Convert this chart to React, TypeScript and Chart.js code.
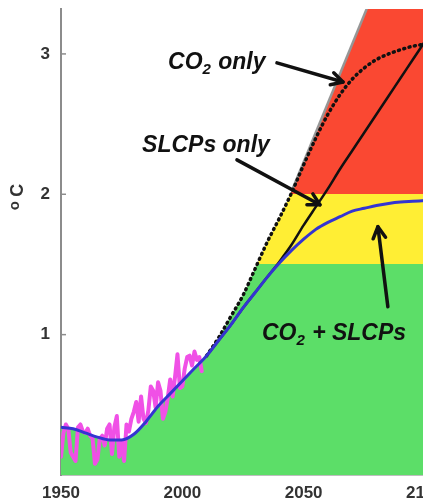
import React, { useEffect, useRef } from 'react';
import { Chart, registerables } from 'chart.js';

Chart.register(...registerables);

// ---------- data ----------
const observedYears = [
  1950, 1951, 1952, 1953, 1954, 1955, 1956, 1957, 1958, 1959,
  1960, 1961, 1962, 1963, 1964, 1965, 1966, 1967, 1968, 1969,
  1970, 1971, 1972, 1973, 1974, 1975, 1976, 1977, 1978, 1979,
  1980, 1981, 1982, 1983, 1984, 1985, 1986, 1987, 1988, 1989,
  1990, 1991, 1992, 1993, 1994, 1995, 1996, 1997, 1998, 1999,
  2000, 2001, 2002, 2003, 2004, 2005, 2006, 2007, 2008,
];
const observedValues = [
  0.13, 0.30, 0.36, 0.33, 0.16, 0.13, 0.10, 0.34, 0.36, 0.31,
  0.30, 0.33, 0.28, 0.26, 0.08, 0.11, 0.26, 0.28, 0.21, 0.33,
  0.36, 0.15, 0.34, 0.42, 0.13, 0.24, 0.10, 0.36, 0.31, 0.40,
  0.45, 0.52, 0.38, 0.56, 0.40, 0.37, 0.46, 0.63, 0.60, 0.48,
  0.66, 0.60, 0.40, 0.45, 0.55, 0.68, 0.56, 0.70, 0.86, 0.62,
  0.63, 0.76, 0.84, 0.85, 0.78, 0.88, 0.82, 0.84, 0.74,
];

const combinedYears = [
  1950, 1955, 1960, 1965, 1970, 1975, 1980, 1985, 1990, 1995,
  2000, 2005, 2010, 2015, 2020, 2025, 2030, 2035, 2040, 2045,
  2050, 2055, 2060, 2065, 2070, 2075, 2080, 2085, 2090, 2095, 2100,
];
const combinedValues = [
  0.34, 0.33, 0.30, 0.27, 0.25, 0.25, 0.29, 0.38, 0.49, 0.58,
  0.67, 0.76, 0.85, 0.96, 1.07, 1.19, 1.30, 1.41, 1.51, 1.60,
  1.68, 1.75, 1.80, 1.84, 1.88, 1.90, 1.92, 1.935, 1.945, 1.95, 1.955,
];

const projectionYears = [
  2010, 2015, 2020, 2025, 2030, 2035, 2040, 2045, 2050, 2055,
  2060, 2065, 2070, 2075, 2080, 2085, 2090, 2095, 2100,
];
const co2OnlyValues = [
  0.85, 0.98, 1.13, 1.28, 1.47, 1.66, 1.83, 2.01, 2.21, 2.40,
  2.57, 2.71, 2.82, 2.90, 2.96, 3.00, 3.03, 3.055, 3.07,
];
const slcpOnlyValues = [
  0.85, 0.96, 1.07, 1.19, 1.30, 1.41, 1.52, 1.64, 1.78, 1.91,
  2.04, 2.18, 2.31, 2.44, 2.57, 2.70, 2.83, 2.96, 3.09,
];

// upper edge of the coloured risk area
const envelopeYears = [
  1950, 1955, 1960, 1965, 1970, 1975, 1980, 1985, 1990, 1995,
  2000, 2005, 2010, 2015, 2020, 2025, 2030, 2035, 2040, 2045,
  2050, 2060, 2070, 2080, 2090, 2100,
];
const envelopeValues = [
  0.34, 0.33, 0.30, 0.27, 0.25, 0.25, 0.29, 0.38, 0.49, 0.58,
  0.67, 0.76, 0.85, 0.98, 1.13, 1.28, 1.47, 1.66, 1.83, 2.02,
  2.23, 2.65, 3.07, 3.49, 3.91, 4.33,
];
const boundaryYears = [2045, 2100];
const boundaryValues = [2.02, 4.33];

const bandLimits = [1.5, 2];
const xTicks = [1950, 2000, 2050, 2100];
const yTicks = [1, 2, 3];

// annotation texts (segments: [text, isSubscript])
const labelSegments: [string, boolean][][] = [
  [['CO', false], ['2', true], [' only', false]],
  [['SLCPs only', false]],
  [['CO', false], ['2', true], [' + SLCPs', false]],
];
const labelX = [1994.1, 1983.4, 2032.8];
const labelY = [2.893, 2.301, 0.964];
const arrowFromX = [2039.0, 2022.5, 2084.7];
const arrowFromY = [2.936, 2.245, 1.199];
const arrowToX = [2066.2, 2056.7, 2080.6];
const arrowToY = [2.80, 1.925, 1.769];

// ---------- styles ----------
const GREEN = 'rgb(92, 222, 104)';
const YELLOW = 'rgb(255, 238, 52)';
const RED = 'rgb(250, 72, 50)';
const BLUE = 'rgb(52, 52, 210)';
const MAGENTA = 'rgb(240, 80, 230)';
const GRAY = 'rgb(150, 150, 150)';
const AXIS = 'rgb(140, 140, 140)';
const TICK_TEXT = '#333';
const FONT = '"Liberation Sans", Arial, sans-serif';

const toPts = (xs: number[], ys: number[]) => xs.map((x, i) => ({ x, y: ys[i] }));

const bandFill = (context: any) => {
  const chart = context.chart;
  const { chartArea, scales } = chart;
  if (!chartArea) return GREEN;
  const g = chart.ctx.createLinearGradient(0, chartArea.bottom, 0, chartArea.top);
  const h = chartArea.bottom - chartArea.top;
  const f1 = (chartArea.bottom - scales.y.getPixelForValue(bandLimits[0])) / h;
  const f2 = (chartArea.bottom - scales.y.getPixelForValue(bandLimits[1])) / h;
  g.addColorStop(0, GREEN);
  g.addColorStop(f1, GREEN);
  g.addColorStop(f1, YELLOW);
  g.addColorStop(f2, YELLOW);
  g.addColorStop(f2, RED);
  g.addColorStop(1, RED);
  return g;
};

const overlayPlugin = {
  id: 'overlay',
  afterDatasetsDraw(chart: any) {
    const { ctx, scales } = chart;
    const x = scales.x;
    const y = scales.y;
    ctx.save();
    // inward y ticks
    ctx.strokeStyle = AXIS;
    ctx.lineWidth = 1.5;
    yTicks.forEach((v) => {
      const py = y.getPixelForValue(v);
      ctx.beginPath();
      ctx.moveTo(x.left, py);
      ctx.lineTo(x.left + 5, py);
      ctx.stroke();
    });
    // arrows
    ctx.strokeStyle = '#111';
    ctx.lineWidth = 3.5;
    ctx.lineCap = 'round';
    ctx.lineJoin = 'round';
    arrowFromX.forEach((_, i) => {
      const x0 = x.getPixelForValue(arrowFromX[i]);
      const y0 = y.getPixelForValue(arrowFromY[i]);
      const x1 = x.getPixelForValue(arrowToX[i]);
      const y1 = y.getPixelForValue(arrowToY[i]);
      const ang = Math.atan2(y1 - y0, x1 - x0);
      const hl = 13;
      const ha = 0.5;
      ctx.beginPath();
      ctx.moveTo(x0, y0);
      ctx.lineTo(x1, y1);
      ctx.stroke();
      ctx.beginPath();
      ctx.moveTo(x1 - hl * Math.cos(ang - ha), y1 - hl * Math.sin(ang - ha));
      ctx.lineTo(x1, y1);
      ctx.lineTo(x1 - hl * Math.cos(ang + ha), y1 - hl * Math.sin(ang + ha));
      ctx.stroke();
    });
    // labels
    ctx.fillStyle = '#111';
    ctx.textBaseline = 'alphabetic';
    ctx.textAlign = 'left';
    labelSegments.forEach((segs, i) => {
      let px = x.getPixelForValue(labelX[i]);
      const py = y.getPixelForValue(labelY[i]);
      segs.forEach(([t, sub]) => {
        ctx.font = sub ? `italic bold 15px ${FONT}` : `italic bold 23px ${FONT}`;
        ctx.fillText(t, px, sub ? py + 5 : py);
        px += ctx.measureText(t).width + (sub ? 1 : 0);
      });
    });
    ctx.restore();
  },
  afterDraw(chart: any) {
    const { ctx, scales } = chart;
    const y = scales.y;
    const cy = y.getPixelForValue(2) + 4;
    ctx.save();
    ctx.translate(18, cy);
    ctx.rotate(-Math.PI / 2);
    ctx.fillStyle = TICK_TEXT;
    ctx.textAlign = 'center';
    ctx.textBaseline = 'middle';
    ctx.font = `bold 15px ${FONT}`;
    ctx.fillText('o', -7.5, -3);
    ctx.font = `bold 18px ${FONT}`;
    ctx.fillText('C', 8, 0.5);
    ctx.restore();
  },
};

export default function App() {
  const canvasRef = useRef<HTMLCanvasElement | null>(null);

  useEffect(() => {
    if (!canvasRef.current) return;
    const chart = new Chart(canvasRef.current, {
      type: 'line',
      data: {
        datasets: [
          {
            label: 'CO2 + SLCPs',
            data: toPts(combinedYears, combinedValues),
            borderColor: BLUE,
            borderWidth: 3,
            pointRadius: 0,
            cubicInterpolationMode: 'monotone',
            fill: false,
            order: 1,
          },
          {
            label: 'observed',
            data: toPts(observedYears, observedValues),
            borderColor: MAGENTA,
            borderWidth: 4,
            borderJoinStyle: 'round',
            borderCapStyle: 'round',
            pointRadius: 0,
            tension: 0,
            fill: false,
            order: 2,
          },
          {
            label: 'CO2 only',
            data: toPts(projectionYears, co2OnlyValues),
            borderColor: '#111',
            borderWidth: 3.5,
            borderDash: [1, 4.5],
            borderCapStyle: 'round',
            pointRadius: 0,
            cubicInterpolationMode: 'monotone',
            fill: false,
            order: 3,
          },
          {
            label: 'SLCPs only',
            data: toPts(projectionYears, slcpOnlyValues),
            borderColor: '#111',
            borderWidth: 2.5,
            pointRadius: 0,
            cubicInterpolationMode: 'monotone',
            fill: false,
            order: 4,
          },
          {
            label: 'upper boundary',
            data: toPts(boundaryYears, boundaryValues),
            borderColor: GRAY,
            borderWidth: 2.5,
            pointRadius: 0,
            tension: 0,
            fill: false,
            order: 5,
          },
          {
            label: 'envelope',
            data: toPts(envelopeYears, envelopeValues),
            borderWidth: 0,
            borderColor: 'rgba(0,0,0,0)',
            backgroundColor: bandFill,
            pointRadius: 0,
            cubicInterpolationMode: 'monotone',
            fill: 'origin',
            order: 10,
          },
        ],
      },
      options: {
        animation: false,
        responsive: true,
        maintainAspectRatio: false,
        layout: { padding: { top: 9, right: 25, left: 0, bottom: 0 } },
        plugins: {
          legend: { display: false },
          tooltip: { enabled: false },
          title: { display: false },
        },
        scales: {
          x: {
            type: 'linear',
            min: 1950,
            max: 2100,
            afterFit: (s: any) => { s.height = 25; s.paddingLeft = 0; s.paddingRight = 0; },
            afterBuildTicks: (s: any) => { s.ticks = xTicks.map((v) => ({ value: v })); },
            grid: { display: true, drawOnChartArea: false, drawTicks: false },
            border: { display: true, color: 'rgb(190,190,190)', width: 1 },
            ticks: {
              padding: 8,
              color: TICK_TEXT,
              font: { family: FONT, size: 17, weight: 'bold' },
              maxRotation: 0,
              callback: (v: any) => String(v),
            },
          },
          y: {
            type: 'linear',
            min: 0,
            max: 3.32,
            afterFit: (s: any) => { s.width = 61; s.paddingTop = 0; s.paddingBottom = 0; },
            afterBuildTicks: (s: any) => { s.ticks = yTicks.map((v) => ({ value: v })); },
            grid: { display: true, drawOnChartArea: false, drawTicks: false },
            border: { display: true, color: AXIS, width: 2 },
            ticks: {
              padding: 11,
              color: TICK_TEXT,
              font: { family: FONT, size: 17, weight: 'bold' },
              callback: (v: any) => String(v),
            },
          },
        },
      },
      plugins: [overlayPlugin],
    } as any);
    return () => chart.destroy();
  }, []);

  return (
    <div style={{ position: 'fixed', left: 0, top: 0, width: 423, height: 500, overflow: 'hidden', background: '#fff' }}>
      <div style={{ position: 'relative', width: 450, height: 500 }}>
        <canvas ref={canvasRef} />
      </div>
    </div>
  );
}
